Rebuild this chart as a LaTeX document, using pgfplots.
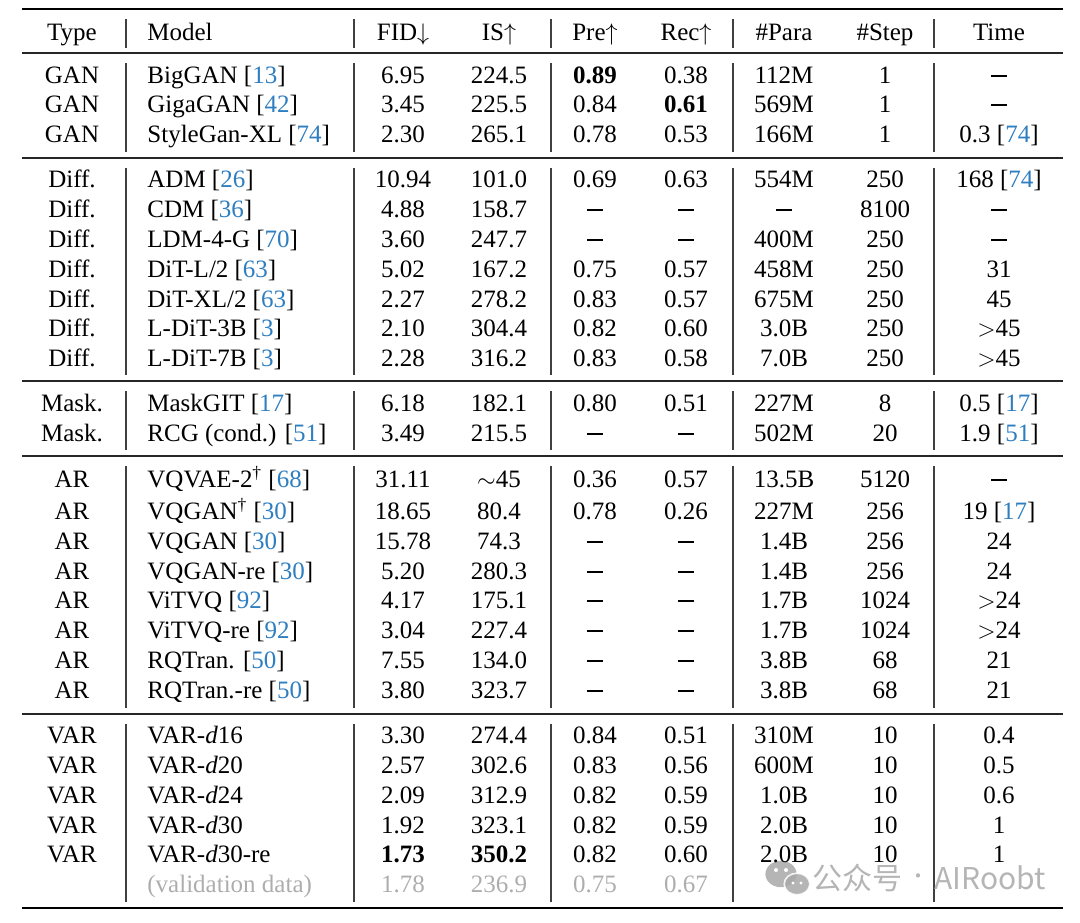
\documentclass[border=0pt]{standalone}
\usepackage{pgfplots}
\usepackage{pgfplotstable}
\pgfplotsset{compat=1.18}
\usepackage{fontspec}
\setmainfont{Liberation Serif}
\newfontfamily\cjk{Noto Sans CJK SC}

\definecolor{citeblue}{HTML}{2E7EC0}
\definecolor{valgray}{HTML}{ADADAD}
\definecolor{wmgray}{HTML}{A8A8A8}
\protected\def\cit#1{[\textcolor{citeblue}{#1}]}
\protected\def\vd#1{\textcolor{valgray}{#1}}
\protected\def\nd{\rule[0.24em]{0.62em}{0.065em}}
\newcommand\tabf{\fontsize{12.5}{15}\selectfont}

% y = baseline of each row (image pixels, measured from the top)
\pgfplotstableread[col sep=&, row sep=\\]{y&type&model&fid&is&pre&rec&para&step&time\\
40&Type&Model&FID$\downarrow$&IS$\uparrow$&Pre$\uparrow$&Rec$\uparrow$&\#Para&\#Step&Time\\
83&GAN&BigGAN \cit{13}&6.95&224.5&\textbf{0.89}&0.38&112M&1&\nd\\
112&GAN&GigaGAN \cit{42}&3.45&225.5&0.84&\textbf{0.61}&569M&1&\nd\\
142&GAN&StyleGan-XL \cit{74}&2.30&265.1&0.78&0.53&166M&1&0.3 \cit{74}\\
187&Diff.&ADM \cit{26}&10.94&101.0&0.69&0.63&554M&250&168 \cit{74}\\
217&Diff.&CDM \cit{36}&4.88&158.7&\nd&\nd&\nd&8100&\nd\\
247&Diff.&LDM-4-G \cit{70}&3.60&247.7&\nd&\nd&400M&250&\nd\\
277&Diff.&DiT-L/2 \cit{63}&5.02&167.2&0.75&0.57&458M&250&31\\
307&Diff.&DiT-XL/2 \cit{63}&2.27&278.2&0.83&0.57&675M&250&45\\
336&Diff.&L-DiT-3B \cit{3}&2.10&304.4&0.82&0.60&3.0B&250&$>$45\\
366&Diff.&L-DiT-7B \cit{3}&2.28&316.2&0.83&0.58&7.0B&250&$>$45\\
411&Mask.&MaskGIT \cit{17}&6.18&182.1&0.80&0.51&227M&8&0.5 \cit{17}\\
441&Mask.&RCG (cond.) \cit{51}&3.49&215.5&\nd&\nd&502M&20&1.9 \cit{51}\\
487&AR&VQVAE-2\textsuperscript{\dag} \cit{68}&31.11&$\sim$45&0.36&0.57&13.5B&5120&\nd\\
519&AR&VQGAN\textsuperscript{\dag} \cit{30}&18.65&80.4&0.78&0.26&227M&256&19 \cit{17}\\
549&AR&VQGAN \cit{30}&15.78&74.3&\nd&\nd&1.4B&256&24\\
579&AR&VQGAN-re \cit{30}&5.20&280.3&\nd&\nd&1.4B&256&24\\
608&AR&ViTVQ \cit{92}&4.17&175.1&\nd&\nd&1.7B&1024&$>$24\\
638&AR&ViTVQ-re \cit{92}&3.04&227.4&\nd&\nd&1.7B&1024&$>$24\\
668&AR&RQTran. \cit{50}&7.55&134.0&\nd&\nd&3.8B&68&21\\
698&AR&RQTran.-re \cit{50}&3.80&323.7&\nd&\nd&3.8B&68&21\\
743&VAR&VAR-\textit{d}16&3.30&274.4&0.84&0.51&310M&10&0.4\\
773&VAR&VAR-\textit{d}20&2.57&302.6&0.83&0.56&600M&10&0.5\\
803&VAR&VAR-\textit{d}24&2.09&312.9&0.82&0.59&1.0B&10&0.6\\
833&VAR&VAR-\textit{d}30&1.92&323.1&0.82&0.59&2.0B&10&1\\
862&VAR&VAR-\textit{d}30-re&\textbf{1.73}&\textbf{350.2}&0.82&0.60&2.0B&10&1\\
892&&\vd{(validation data)}&\vd{1.78}&\vd{236.9}&\vd{0.75}&\vd{0.67}&&&\\
}\results

\pgfplotsset{
  cell/.style={draw=none, mark=none, nodes near coords, point meta=explicit symbolic,
    every node near coord/.style={anchor=base, inner sep=0pt, font=\tabfont, text=black}},
  cellL/.style={cell, every node near coord/.append style={anchor=base west}},
  vrule/.style={black!75, line width=0.65pt, unbounded coords=jump},
}
\let\tabfont\tabf

\begin{document}
\begin{tikzpicture}
\begin{axis}[
  width=540pt, height=461pt, scale only axis,
  xmin=0, xmax=1080, ymin=0, ymax=922, y dir=reverse,
  axis line style={draw=none}, ticks=none, clip=false,
]
% rules
\addplot[black, line width=1.2pt] coordinates {(22,9) (1063,9)};
\addplot[black, line width=1.2pt] coordinates {(22,908) (1063,908)};
\addplot[black!85, line width=0.7pt, unbounded coords=jump] coordinates {
  (22,53) (1063,53) (nan,nan) (22,158) (1063,158) (nan,nan)
  (22,381) (1063,381) (nan,nan) (22,456) (1063,456) (nan,nan)
  (22,714) (1063,714)};
% vertical separators, one segment per block
\addplot[vrule] coordinates {(126,19)(126,48)(126,nan)(126,63)(126,152)(126,nan)(126,168)(126,375)(126,nan)(126,391)(126,450)(126,nan)(126,466)(126,708)(126,nan)(126,724)(126,902)};
\addplot[vrule] coordinates {(354,19)(354,48)(354,nan)(354,63)(354,152)(354,nan)(354,168)(354,375)(354,nan)(354,391)(354,450)(354,nan)(354,466)(354,708)(354,nan)(354,724)(354,902)};
\addplot[vrule] coordinates {(551,19)(551,48)(551,nan)(551,63)(551,152)(551,nan)(551,168)(551,375)(551,nan)(551,391)(551,450)(551,nan)(551,466)(551,708)(551,nan)(551,724)(551,902)};
\addplot[vrule] coordinates {(733,19)(733,48)(733,nan)(733,63)(733,152)(733,nan)(733,168)(733,375)(733,nan)(733,391)(733,450)(733,nan)(733,466)(733,708)(733,nan)(733,724)(733,902)};
\addplot[vrule] coordinates {(934,19)(934,48)(934,nan)(934,63)(934,152)(934,nan)(934,168)(934,375)(934,nan)(934,391)(934,450)(934,nan)(934,466)(934,708)(934,nan)(934,724)(934,902)};

% cells
\addplot[cell]  table[x expr=72,  y=y, meta=type] {\results};
\addplot[cellL] table[x expr=147, y=y, meta=model] {\results};
\addplot[cell]  table[x expr=403, y=y, meta=fid] {\results};
\addplot[cell]  table[x expr=499, y=y, meta=is] {\results};
\addplot[cell]  table[x expr=595, y=y, meta=pre] {\results};
\addplot[cell]  table[x expr=686, y=y, meta=rec] {\results};
\addplot[cell]  table[x expr=784, y=y, meta=para] {\results};
\addplot[cell]  table[x expr=885, y=y, meta=step] {\results};
\addplot[cell]  table[x expr=999, y=y, meta=time] {\results};

% watermark
\fill[wmgray, opacity=0.85] (axis cs:781,874) ellipse [x radius=7.8pt, y radius=6.6pt];
\fill[wmgray, opacity=0.85, draw=white, line width=0.8pt] (axis cs:797,884) ellipse [x radius=6.4pt, y radius=5.4pt];
\fill[white] (axis cs:776,870) circle (1pt) (axis cs:786,870) circle (1pt)
  (axis cs:793,883) circle (0.8pt) (axis cs:801,883) circle (0.8pt);
\node[anchor=base west, inner sep=0pt, text=wmgray, opacity=0.85, font=\cjk\fontsize{15}{18}\selectfont] at (axis cs:812,889) {公众号};
\node[anchor=base, inner sep=0pt, text=wmgray, opacity=0.85, font=\cjk\fontsize{10}{12}\selectfont] at (axis cs:918,883) {·};
\node[anchor=base west, inner sep=0pt, text=wmgray, opacity=0.85, font=\cjk\fontsize{15}{18}\selectfont] at (axis cs:934,889) {AIRoobt};
\end{axis}
\end{tikzpicture}
\end{document}
